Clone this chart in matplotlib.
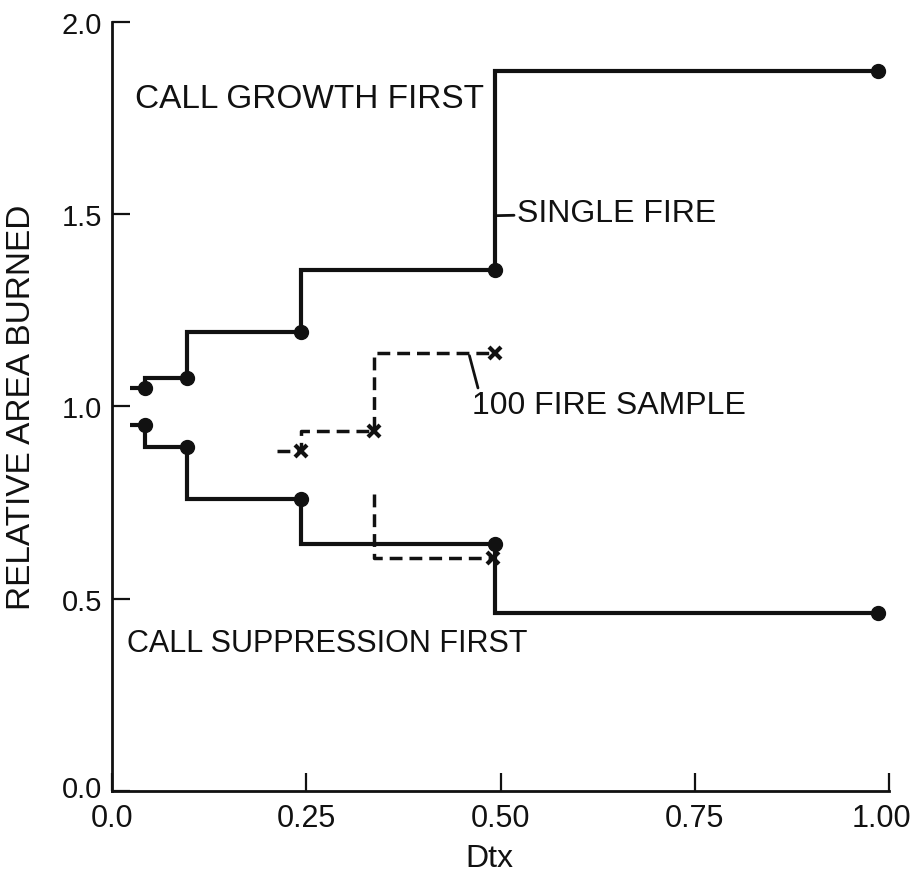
import matplotlib
matplotlib.use("Agg")
import matplotlib.pyplot as plt
from matplotlib.transforms import ScaledTranslation

plt.rcParams["font.family"] = ["Liberation Sans", "DejaVu Sans"]

INK = "#111111"

# Dtx values and relative area burned, single fire runs
single_dtx = [0.042, 0.097, 0.243, 0.493, 0.986]
growth_first = [1.047, 1.073, 1.193, 1.356, 1.873]
suppression_first = [0.952, 0.894, 0.759, 0.642, 0.462]
single_start = 0.023

# 100 fire sample runs
sample_growth_dtx = [0.243, 0.337, 0.493]
sample_growth = [0.885, 0.937, 1.139]
sample_growth_start = 0.212
sample_supp_dtx = [0.490]
sample_supp = [0.606]
sample_supp_start = (0.337, 0.772)

x_ticks = [0.0, 0.25, 0.50, 0.75, 1.00]
x_labels = ["0.0", "0.25", "0.50", "0.75", "1.00"]
y_ticks = [0.0, 0.5, 1.0, 1.5, 2.0]
y_labels = ["0.0", "0.5", "1.0", "1.5", "2.0"]

fig = plt.figure(figsize=(9.12, 8.79), dpi=100)
ax = fig.add_axes([0.1228, 0.099, 0.852, 0.875])

# single fire: step lines with a short lead-in, dots at each run
for ys in (growth_first, suppression_first):
    ax.plot([single_start] + single_dtx, [ys[0]] + ys, drawstyle="steps-pre",
            color=INK, linewidth=3, solid_capstyle="butt", solid_joinstyle="miter")
    ax.plot(single_dtx, ys, linestyle="none", marker="o", markersize=10,
            color=INK)

# 100 fire sample: dashed steps with x markers
dash = (0, (3.7, 2.0))
ax.plot([sample_growth_start] + sample_growth_dtx,
        [sample_growth[0]] + sample_growth, drawstyle="steps-pre",
        color=INK, linewidth=2.5, linestyle=dash)
ax.plot([sample_supp_start[0]] + sample_supp_dtx,
        [sample_supp_start[1]] + sample_supp, drawstyle="steps-pre",
        color=INK, linewidth=2.5, linestyle=dash)
ax.plot(sample_growth_dtx + sample_supp_dtx, sample_growth + sample_supp,
        linestyle="none", marker="x", markersize=9, markeredgewidth=3,
        color=INK)

txt = dict(color=INK, va="center", ha="left")
ax.text(0.0295, 1.80, "CALL GROWTH FIRST", fontsize=24, **txt)
ax.text(0.019, 0.386, "CALL SUPPRESSION FIRST", fontsize=22, **txt)
ax.annotate("SINGLE FIRE", xy=(0.494, 1.496), xytext=(0.521, 1.503),
            fontsize=23, arrowprops=dict(arrowstyle="-", color=INK, lw=2,
                                         shrinkA=0, shrinkB=0), **txt)
ax.annotate("", xy=(0.460, 1.132), xytext=(0.471, 1.048),
            arrowprops=dict(arrowstyle="-", color=INK, lw=2,
                            shrinkA=0, shrinkB=0))
ax.text(0.463, 1.004, "100 FIRE SAMPLE", fontsize=23, **txt)

ax.set_xlim(0, 1.0)
ax.set_ylim(0, 2.0)
ax.set_xticks(x_ticks, x_labels)
ax.set_yticks(y_ticks, y_labels)
for side in ("top", "right"):
    ax.spines[side].set_visible(False)
for side in ("left", "bottom"):
    ax.spines[side].set_linewidth(2)
    ax.spines[side].set_color(INK)
ax.tick_params(direction="in", length=13, width=1.6, colors=INK)
ax.tick_params(axis="x", labelsize=22, pad=9)
ax.tick_params(axis="y", labelsize=21, pad=7)

# keep the last x label inside the figure, lift the y zero label a touch
xlbls = ax.get_xticklabels()
xlbls[-1].set_transform(xlbls[-1].get_transform()
                        + ScaledTranslation(-0.08, 0, fig.dpi_scale_trans))
ylbls = ax.get_yticklabels()
ylbls[0].set_transform(ylbls[0].get_transform()
                       + ScaledTranslation(0, 0.05, fig.dpi_scale_trans))

ax.set_xlabel("Dtx", fontsize=23, color=INK)
ax.xaxis.set_label_coords(0.486, -0.068)
ax.set_ylabel("RELATIVE AREA BURNED", fontsize=24, color=INK)
ax.yaxis.set_label_coords(-0.096, 0.5)

fig.savefig("out.png", dpi=100, facecolor="white")
